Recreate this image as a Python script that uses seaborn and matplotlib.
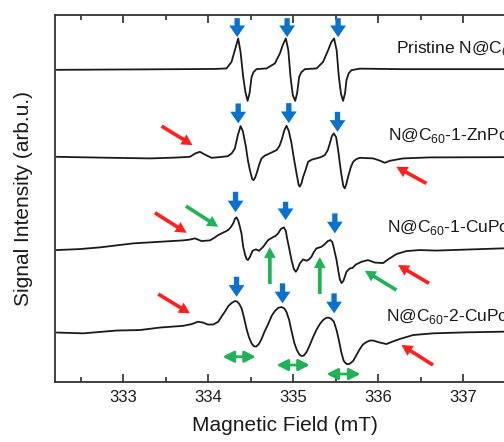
import matplotlib
matplotlib.use("Agg")
from matplotlib import pyplot as plt
from matplotlib.ticker import MultipleLocator
import numpy as np
import pandas as pd
import seaborn as sns

# EPR spectra: field in mT, intensity in arb. u. (traces stacked)
field_pristine = [332.216, 333.314, 334.079, 334.216, 334.275, 334.314, 334.353, 334.381,
                  334.412, 334.438, 334.464, 334.487, 334.511, 334.533, 334.569, 334.687,
                  334.785, 334.844, 334.882, 334.914, 334.943, 334.969, 334.996, 335.024,
                  335.047, 335.071, 335.097, 335.138, 335.275, 335.353, 335.412, 335.449,
                  335.482, 335.512, 335.538, 335.564, 335.588, 335.611, 335.628, 335.655,
                  335.687, 335.785, 336.255, 337.608]
sig_pristine = [31.23, 31.28, 31.32, 31.37, 32.03, 33.20, 34.37, 33.0,
                30.53, 29.0, 28.13, 28.9, 30.53, 31.0, 31.30, 31.37,
                31.87, 32.87, 33.8, 34.37, 33.2, 30.53, 28.7, 28.13,
                28.9, 30.53, 31.0, 31.30, 31.37, 32.03, 33.20, 34.0,
                34.37, 33.2, 30.53, 28.8, 28.13, 28.9, 30.2, 30.9,
                31.2, 31.35, 31.3, 31.3]

field_znpc = [332.216, 332.726, 333.314, 333.608, 333.785, 333.844, 333.902, 333.961,
              334.040, 334.138, 334.235, 334.279, 334.314, 334.349, 334.381, 334.408,
              334.444, 334.467, 334.491, 334.518, 334.535, 334.555, 334.576, 334.602,
              334.628, 334.667, 334.706, 334.805, 334.838, 334.864, 334.897, 334.922,
              334.949, 334.981, 335.008, 335.040, 335.065, 335.079, 335.099, 335.118,
              335.150, 335.176, 335.220, 335.275, 335.326, 335.373, 335.408, 335.432,
              335.456, 335.479, 335.506, 335.530, 335.549, 335.569, 335.591, 335.608,
              335.626, 335.647, 335.679, 335.706, 335.744, 335.785, 335.941, 336.020,
              336.078, 336.138, 336.294, 336.608, 337.608]
sig_znpc = [22.53, 22.45, 22.37, 22.45, 22.53, 22.85, 23.03, 22.75,
            22.43, 22.5, 22.6, 22.9, 23.37, 24.7, 25.6, 25.1,
            23.53, 22.2, 21.2, 20.3, 20.2, 20.5, 21.03, 21.8,
            22.37, 22.65, 22.8, 23.2, 23.6, 24.2, 25.2, 25.63,
            25.1, 23.87, 22.4, 20.87, 19.7, 19.55, 19.9, 20.53,
            21.3, 22.03, 22.25, 22.37, 22.5, 22.7, 23.2, 23.87,
            24.6, 24.87, 24.5, 23.2, 21.9, 20.7, 19.6, 19.37,
            19.8, 20.53, 21.5, 22.03, 22.3, 22.43, 22.37, 22.15,
            21.93, 22.13, 22.37, 22.47, 22.5]

field_cupc1 = [332.216, 332.49, 332.726, 333.118, 333.432, 333.706, 333.785, 333.844,
               333.922, 334.020, 334.067, 334.118, 334.196, 334.235, 334.267, 334.294,
               334.316, 334.334, 334.355, 334.373, 334.393, 334.412, 334.432, 334.452,
               334.467, 334.491, 334.522, 334.561, 334.600, 334.647, 334.706, 334.758,
               334.791, 334.824, 334.855, 334.891, 334.914, 334.929, 334.955, 334.981,
               335.008, 335.032, 335.055, 335.079, 335.118, 335.158, 335.185, 335.216,
               335.243, 335.275, 335.334, 335.373, 335.408, 335.438, 335.461, 335.479,
               335.511, 335.532, 335.549, 335.569, 335.591, 335.628, 335.667, 335.697,
               335.738, 335.805, 335.882, 335.961, 336.059, 336.118, 336.216, 336.334,
               336.491, 336.687, 337.467, 337.608]
sig_cupc1 = [13.2, 13.3, 13.47, 13.87, 14.03, 14.17, 14.25, 14.37,
             14.1, 14.17, 14.4, 14.7, 15.03, 15.2, 15.5, 15.87,
             16.35, 16.47, 16.1, 15.53, 14.8, 13.53, 12.8, 12.3,
             12.2, 12.5, 13.13, 13.27, 13.13, 13.53, 14.2, 14.47,
             14.6, 14.87, 15.3, 15.47, 15.1, 14.37, 13.3, 12.2,
             11.3, 11.03, 11.35, 11.87, 12.27, 12.13, 12.25, 12.53,
             13.0, 13.37, 13.53, 13.8, 14.1, 14.2, 14.0, 13.4,
             12.2, 11.1, 10.3, 9.9, 10.1, 11.03, 11.37, 11.4,
             11.75, 12.03, 12.2, 11.95, 11.9, 12.27, 12.8, 13.1,
             13.2, 13.15, 13.37, 13.4]

field_cupc2 = [332.216, 332.529, 332.922, 333.196, 333.432, 333.706, 333.808, 333.879,
               333.938, 333.996, 334.059, 334.118, 334.161, 334.196, 334.237, 334.275,
               334.314, 334.341, 334.367, 334.393, 334.420, 334.452, 334.479, 334.511,
               334.538, 334.565, 334.596, 334.628, 334.661, 334.706, 334.749, 334.785,
               334.826, 334.864, 334.897, 334.922, 334.953, 334.981, 335.014, 335.044,
               335.073, 335.099, 335.126, 335.158, 335.196, 335.235, 335.273, 335.314,
               335.353, 335.385, 335.412, 335.444, 335.479, 335.511, 335.538, 335.569,
               335.596, 335.628, 335.661, 335.706, 335.745, 335.785, 335.821, 335.864,
               335.903, 335.941, 336.020, 336.099, 336.173, 336.255, 336.412, 336.647,
               337.040, 337.432, 337.608]
sig_cupc2 = [4.95, 4.87, 5.15, 5.2, 5.45, 5.62, 5.8, 6.03,
             5.95, 5.75, 5.75, 6.03, 6.6, 7.03, 7.6, 7.9,
             8.1, 8.05, 7.8, 7.37, 6.5, 5.3, 4.5, 3.87,
             3.57, 3.55, 3.8, 4.3, 5.0, 5.8, 6.65, 7.1,
             7.43, 7.5, 7.35, 7.0, 6.2, 5.1, 3.9, 3.2,
             2.75, 2.6, 2.65, 3.0, 3.7, 4.5, 5.2, 5.8,
             6.2, 6.4, 6.45, 6.35, 6.05, 5.2, 4.2, 2.9,
             2.1, 1.8, 1.8, 2.1, 2.7, 3.3, 3.75, 4.0,
             4.15, 4.15, 3.95, 3.8, 4.05, 4.3, 4.7, 4.87,
             4.97, 5.03, 5.05]

sample_labels = ["Pristine N@C$_\\mathregular{60}$", "N@C$_\\mathregular{60}$-1-ZnPc",
                 "N@C$_\\mathregular{60}$-1-CuPc", "N@C$_\\mathregular{60}$-2-CuPc"]
label_x = [336.216, 336.118, 336.106, 336.099]
label_y = [33.37, 24.7, 15.47, 6.6]

# blue arrows: N@C60 hyperfine lines (x, tip y, tail y)
blue_x = [334.341, 334.929, 335.529, 334.353, 334.949, 335.522,
          334.322, 334.911, 335.491, 334.334, 334.875, 335.482]
blue_tip = [34.5, 34.5, 34.5, 25.87, 25.9, 25.03, 16.98, 16.2, 14.87, 8.53, 7.87, 6.87]
blue_tail = [36.4, 36.4, 36.4, 27.87, 27.9, 27.03, 19.03, 18.03, 16.87, 10.53, 9.87, 8.87]

# red arrows: (tail x, tail y, tip x, tip y)
red_arrows = [(333.452, 25.6, 333.816, 23.7), (336.569, 19.87, 336.216, 21.53),
              (333.373, 16.93, 333.746, 14.93), (336.600, 9.87, 336.235, 11.7),
              (333.412, 8.8, 333.785, 6.87), (336.647, 1.7, 336.275, 3.7)]
# green arrows
green_arrows = [(333.738, 17.6, 334.118, 15.53), (334.726, 9.8, 334.726, 13.5),
                (335.314, 8.8, 335.314, 12.5), (336.216, 9.2, 335.844, 11.13)]
# green double arrows (linewidths): (x start, x end, y)
green_double = [(334.169, 334.561, 2.53), (334.805, 335.196, 1.7), (335.393, 335.793, 0.8)]

sns.set_theme(style="ticks")
plt.rcParams["font.family"] = ["Liberation Sans", "DejaVu Sans"]
plt.rcParams["mathtext.fontset"] = "custom"
plt.rcParams["mathtext.rm"] = "Liberation Sans"

fig = plt.figure(figsize=(5.04, 4.42), dpi=100)
ax = fig.add_axes([0.1097, 0.1357, 0.9115, 0.830])

traces = [(field_pristine, sig_pristine), (field_znpc, sig_znpc),
          (field_cupc1, sig_cupc1), (field_cupc2, sig_cupc2)]
for fx, sy in traces:
    df = pd.DataFrame({"field": fx, "signal": sy})
    sns.lineplot(data=df, x="field", y="signal", ax=ax, color="#1a1a1a",
                 linewidth=1.3, estimator=None, sort=False)

blue = "#0a72cc"
red = "#ff1f1f"
green = "#1fb356"
for x, yt, yb in zip(blue_x, blue_tip, blue_tail):
    ax.annotate("", xy=(x, yt), xytext=(x, yb),
                arrowprops=dict(arrowstyle="simple,head_length=0.7,head_width=0.95,tail_width=0.32",
                                color=blue, shrinkA=0, shrinkB=0, lw=0))
for x0, y0, x1, y1 in red_arrows:
    ax.annotate("", xy=(x1, y1), xytext=(x0, y0),
                arrowprops=dict(arrowstyle="simple,head_length=0.65,head_width=0.7,tail_width=0.22",
                                color=red, shrinkA=0, shrinkB=0, lw=0))
for x0, y0, x1, y1 in green_arrows:
    ax.annotate("", xy=(x1, y1), xytext=(x0, y0),
                arrowprops=dict(arrowstyle="simple,head_length=0.65,head_width=0.7,tail_width=0.22",
                                color=green, shrinkA=0, shrinkB=0, lw=0))
for x0, x1, y in green_double:
    ax.annotate("", xy=(x1, y), xytext=(x0, y),
                arrowprops=dict(arrowstyle="<|-|>,head_length=0.55,head_width=0.28",
                                color=green, lw=2.0, shrinkA=0, shrinkB=0,
                                mutation_scale=12))

for lab, lx, ly in zip(sample_labels, label_x, label_y):
    ax.text(lx, ly, lab, fontsize=12.5, color="#1a1a1a", va="center", ha="left")

ax.set_xlim(332.2, 337.608)
ax.set_ylim(0, 36.7)
ax.xaxis.set_major_locator(MultipleLocator(1))
ax.xaxis.set_minor_locator(MultipleLocator(0.5))
ax.tick_params(axis="x", which="both", direction="in", top=True, bottom=True,
               labelsize=12, colors="#1a1a1a", width=1.1, pad=6)
ax.tick_params(axis="x", which="major", length=6)
ax.tick_params(axis="x", which="minor", length=3.5)
ax.set_yticks([])
for s in ax.spines.values():
    s.set_linewidth(1.3)
    s.set_color("#333333")
ax.set_xlabel("Magnetic Field (mT)", fontsize=15, labelpad=8, color="#1a1a1a")
ax.set_ylabel("Signal Intensity (arb.u.)", fontsize=15, labelpad=16, color="#1a1a1a")

fig.savefig("out.png", dpi=100, facecolor="white")
